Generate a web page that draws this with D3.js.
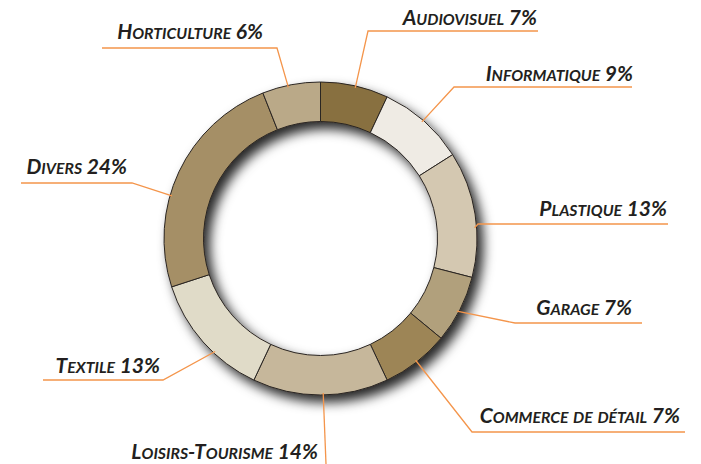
<!DOCTYPE html>
<html>
<head>
<meta charset="utf-8">
<script src="https://cdn.jsdelivr.net/npm/d3@7"></script>
<style>
  html, body { margin: 0; padding: 0; background: #fff; }
  svg { display: block; }
  text { font-family: Lato, "Open Sans", sans-serif; font-weight: bold; font-style: italic; fill: #231f20; }
</style>
</head>
<body>
<svg id="chart" width="701" height="464"></svg>
<script>
// data, clockwise from 12 o'clock
const categories = ['Audiovisuel', 'Informatique', 'Plastique', 'Garage', 'Commerce de détail',
  'Loisirs-Tourisme', 'Textile', 'Divers', 'Horticulture']
const values = [7, 9, 13, 7, 7, 14, 13, 24, 6]
const colors = ['#88703f', '#efebe4', '#d4c8b1', '#b1a07c', '#9d8557',
  '#c6b79b', '#e0dbc8', '#a58f66', '#baa988']

// label layout: angle where the leader touches the ring, elbow point, far end of line, text anchor
const leaders = [
  {a: 13, elbow: [368, 31], end: 538, text: [537, 25]},
  {a: 41, elbow: [454, 87], end: 632, text: [633, 81]},
  {a: 86, elbow: [478, 224], end: 668, text: [667, 216]},
  {a: 118, elbow: [515, 323], end: 642, text: [632, 315]},
  {a: 142, elbow: [472, 432], end: 685, text: [680, 423]},
  {a: 179, elbow: [326, 464], end: 326, text: [318, 459]},
  {a: 223, elbow: [163, 380], end: 43, text: [160, 373]},
  {a: 286, elbow: [132, 183], end: 21, text: [127, 174]},
  {a: 348, elbow: [277, 48], end: 102, text: [263, 39]}
]

const cx = 320.5, cy = 238.5
const outerR = 156.5, innerR = 117

const svg = d3.select('#chart')

// drop shadow, also falls into the hole on the upper-left side
const defs = svg.append('defs')
const f = defs.append('filter').attr('id', 'shadow')
  .attr('x', '-20%').attr('y', '-20%').attr('width', '140%').attr('height', '140%')
f.append('feDropShadow').attr('dx', 6).attr('dy', 7).attr('stdDeviation', 6)
  .attr('flood-color', '#000').attr('flood-opacity', 0.85)

const pie = d3.pie().sort(null).value(d => d)
const arc = d3.arc().innerRadius(innerR).outerRadius(outerR)
const color = d3.scaleOrdinal().domain(categories).range(colors)

const arcs = pie(values)

const g = svg.append('g').attr('transform', `translate(${cx},${cy})`)

// leader lines first so the ring sits on top of them
const lines = svg.append('g')
leaders.forEach(l => {
  const p = d3.pointRadial(l.a * Math.PI / 180, outerR - 2)
  const pts = [[cx + p[0], cy + p[1]], l.elbow, [l.end, l.elbow[1]]]
  lines.append('path')
    .attr('d', d3.line()(pts))
    .attr('fill', 'none')
    .attr('stroke', '#f4954b')
    .attr('stroke-width', 1.3)
})

const ring = g.append('g').attr('filter', 'url(#shadow)')
ring.selectAll('path')
  .data(arcs)
  .join('path')
  .attr('d', arc)
  .attr('fill', (d, i) => color(categories[i]))
  .attr('stroke', '#2a2522')
  .attr('stroke-width', 1)

// small-caps labels built from tspans
const bigSize = 21, smallSize = 15.8
function addLabel (sel, str) {
  let prevLetter = false
  const parts = []
  for (const ch of str) {
    const isLetter = /\p{L}/u.test(ch)
    const big = !isLetter || (!prevLetter && ch === ch.toUpperCase())
    const last = parts[parts.length - 1]
    if (last && last.big === big) last.t += ch.toUpperCase()
    else parts.push({big: big, t: ch.toUpperCase()})
    prevLetter = isLetter
  }
  parts.forEach(p => {
    sel.append('tspan').attr('font-size', p.big ? bigSize : smallSize).text(p.t)
  })
}

const labels = svg.append('g')
categories.forEach((c, i) => {
  const l = leaders[i]
  const t = labels.append('text')
    .attr('x', l.text[0]).attr('y', l.text[1])
    .attr('text-anchor', 'end')
  addLabel(t, c + ' ' + values[i] + '%')
})
</script>
</body>
</html>
